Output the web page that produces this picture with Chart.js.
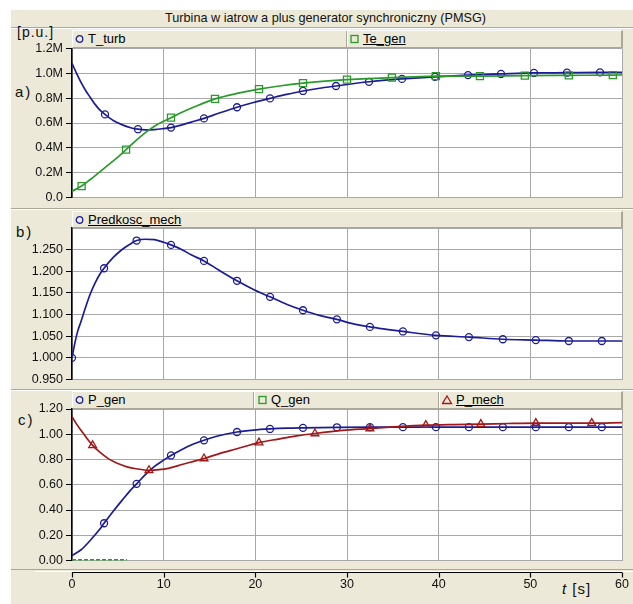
<!DOCTYPE html>
<html><head><meta charset="utf-8">
<script src="https://cdn.jsdelivr.net/npm/chart.js@4.4.0/dist/chart.umd.min.js"></script>
<style>
body{margin:0;width:633px;height:604px;position:relative;background:#fff;font-family:"Liberation Sans",Arial,sans-serif;overflow:hidden}
#bg{position:absolute;left:11px;top:10px;width:622px;height:594px;background:#ece9d8}
.hl{position:absolute;height:1px}
.leg{position:absolute;background:#ece9d8;border-top:1px solid #fff;border-left:1px solid #fff;border-right:2px solid #aca899;border-bottom:1px solid #aca899;box-sizing:border-box}
.item{position:absolute;top:0;height:100%;font-size:13px;line-height:16px;color:#000;white-space:nowrap}
.item svg{position:absolute;left:0;top:3px}
.item span{position:absolute;left:13px;top:0}
.sep{position:absolute;top:0;height:100%;width:1px;background:#aca899;border-right:1px solid #fff}
.u{text-decoration:underline}
.txt{position:absolute;color:#111;white-space:nowrap}
canvas{position:absolute;left:0}
</style></head>
<body>
<div id="bg"></div>
<div class="txt" style="left:0;width:651px;text-align:center;top:11px;font-size:12.7px;line-height:15px">Turbina w iatrow a plus generator synchroniczny (PMSG)</div>
<div class="hl" style="left:11px;width:622px;top:27px;background:#aca899"></div>
<div class="hl" style="left:11px;width:622px;top:28px;background:#fff"></div>
<div class="hl" style="left:11px;width:622px;top:208px;background:#aca899"></div>
<div class="hl" style="left:11px;width:622px;top:209px;background:#fff"></div>
<div class="hl" style="left:11px;width:622px;top:389px;background:#aca899"></div>
<div class="hl" style="left:11px;width:622px;top:390px;background:#fff"></div>
<div class="hl" style="left:11px;width:622px;top:569px;background:#aca899"></div>
<div class="hl" style="left:35px;width:598px;top:571px;background:#fff"></div>

<div class="txt" style="left:17px;top:24px;font-size:14px;line-height:17px;letter-spacing:1px">[p.u.]</div>
<div class="txt" style="left:15px;top:83px;font-size:15px;line-height:18px;letter-spacing:2px">a)</div>
<div class="txt" style="left:16px;top:223px;font-size:15px;line-height:18px;letter-spacing:2px">b)</div>
<div class="txt" style="left:18px;top:411px;font-size:15px;line-height:18px;letter-spacing:2px">c)</div>
<div class="txt" style="left:562px;top:580px;font-size:15px;line-height:18px;letter-spacing:1px"><i>t</i> [s]</div>

<div class="leg" style="left:72px;top:30px;width:551px;height:18px">
  <div class="item" style="left:2px"><svg width="10" height="10"><circle cx="4.5" cy="5" r="3.3" fill="none" stroke="#1c1c96" stroke-width="1.3"/></svg><span>T_turb</span></div>
  <div class="sep" style="left:273px"></div>
  <div class="item" style="left:277px"><svg width="10" height="10"><rect x="1" y="1.5" width="7" height="7" fill="none" stroke="#2a9a2a" stroke-width="1.3"/></svg><span class="u">Te_gen</span></div>
</div>
<div class="leg" style="left:72px;top:211px;width:551px;height:17px">
  <div class="item" style="left:2px"><svg width="10" height="10"><circle cx="4.5" cy="5" r="3.3" fill="none" stroke="#1c1c96" stroke-width="1.3"/></svg><span class="u">Predkosc_mech</span></div>
</div>
<div class="leg" style="left:72px;top:391px;width:551px;height:18px">
  <div class="item" style="left:2px"><svg width="10" height="10"><circle cx="4.5" cy="5" r="3.3" fill="none" stroke="#1c1c96" stroke-width="1.3"/></svg><span>P_gen</span></div>
  <div class="sep" style="left:180px"></div>
  <div class="item" style="left:185px"><svg width="10" height="10"><rect x="1" y="1.5" width="7" height="7" fill="none" stroke="#2a9a2a" stroke-width="1.3"/></svg><span>Q_gen</span></div>
  <div class="sep" style="left:365px"></div>
  <div class="item" style="left:369px"><svg width="12" height="10"><polygon points="5,1 9.5,8.5 0.5,8.5" fill="none" stroke="#a01818" stroke-width="1.3"/></svg><span class="u" style="left:14px">P_mech</span></div>
</div>

<canvas id="ca" width="633" height="170" style="top:38px"></canvas>
<canvas id="cb" width="633" height="175" style="top:215px"></canvas>
<canvas id="cc" width="633" height="207" style="top:397px"></canvas>

<script>
// ---------- data ----------
const X_TICKS = [0, 10, 20, 30, 40, 50, 60];
const A_TICK_LABELS = ['0.0', '0.2M', '0.4M', '0.6M', '0.8M', '1.0M', '1.2M'];
const B_TICK_LABELS = ['0.950', '1.000', '1.050', '1.100', '1.150', '1.200', '1.250', ''];
const C_TICK_LABELS = ['0.00', '0.20', '0.40', '0.60', '0.80', '1.00', '1.20'];

// a) T_turb
const T_TURB_T = [0, 0.5, 1, 1.5, 2, 2.5, 3, 3.6, 4.5, 5.5, 6.5, 7.2, 8, 9, 10, 10.8, 12, 13, 14.4, 16, 18, 19.8, 21.6, 23.4, 25.2, 27, 28.8, 30.6, 32.4, 34.2, 36, 39.6, 43.2, 46.8, 50.4, 54, 57.6, 60];
const T_TURB_V = [1.08, 1.00, 0.925, 0.86, 0.805, 0.752, 0.708, 0.669, 0.62, 0.585, 0.56, 0.55, 0.545, 0.547, 0.555, 0.563, 0.585, 0.607, 0.637, 0.678, 0.727, 0.765, 0.798, 0.83, 0.858, 0.88, 0.898, 0.916, 0.932, 0.945, 0.955, 0.972, 0.986, 0.995, 1.003, 1.005, 1.008, 1.008];
const T_TURB_MARKS = [3.6, 7.2, 10.8, 14.4, 18, 21.6, 25.2, 28.8, 32.4, 36, 39.6, 43.2, 46.8, 50.4, 54, 57.6];
// a) Te_gen
const TE_GEN_T = [0, 1.05, 2, 3, 4, 5, 5.9, 7, 8, 9, 10, 10.8, 12, 13.5, 15.6, 18, 20.4, 22.8, 25.2, 27.6, 30, 32.4, 34.9, 37.3, 39.7, 44.5, 49.4, 54.2, 59, 60];
const TE_GEN_V = [0.05, 0.092, 0.145, 0.205, 0.265, 0.326, 0.386, 0.46, 0.522, 0.574, 0.614, 0.643, 0.686, 0.735, 0.794, 0.838, 0.873, 0.9, 0.921, 0.937, 0.949, 0.958, 0.966, 0.972, 0.977, 0.978, 0.982, 0.984, 0.986, 0.987];
const TE_GEN_MARKS = [1.05, 5.9, 10.8, 15.6, 20.4, 25.2, 30, 34.9, 39.7, 44.5, 49.4, 54.2, 59];

// b) Predkosc_mech
const PRED_T = [0, 0.3, 0.6, 1, 1.5, 2, 2.5, 3, 3.5, 4.5, 5.5, 6.5, 7.05, 8, 9, 10, 10.8, 12, 13, 14.4, 16, 18, 19.8, 21.6, 23.4, 25.2, 27, 28.9, 30.6, 32.5, 34.3, 36.1, 39.7, 43.3, 47, 50.6, 54.2, 57.8, 60];
const PRED_V = [1.000, 1.033, 1.060, 1.085, 1.118, 1.148, 1.172, 1.192, 1.207, 1.232, 1.251, 1.265, 1.271, 1.274, 1.273, 1.267, 1.261, 1.250, 1.238, 1.224, 1.203, 1.178, 1.158, 1.141, 1.124, 1.110, 1.098, 1.089, 1.079, 1.0715, 1.066, 1.061, 1.052, 1.048, 1.043, 1.041, 1.039, 1.039, 1.039];
const PRED_MARKS = [0, 3.5, 7.05, 10.8, 14.4, 18, 21.6, 25.2, 28.9, 32.5, 36.1, 39.7, 43.3, 47, 50.6, 54.2, 57.8];

// c) P_gen
const P_GEN_T = [0, 1, 2, 3, 3.5, 4.5, 5.5, 6.3, 7.05, 8, 9, 10, 10.8, 12, 13, 14.4, 16, 18, 19.8, 21.6, 23.4, 25.2, 28.9, 32.5, 36.1, 39.7, 43.3, 47, 50.6, 54.2, 57.8, 60];
const P_GEN_V = [0.04, 0.085, 0.16, 0.245, 0.295, 0.39, 0.48, 0.55, 0.607, 0.68, 0.745, 0.795, 0.832, 0.88, 0.915, 0.952, 0.988, 1.018, 1.033, 1.042, 1.048, 1.051, 1.055, 1.056, 1.056, 1.056, 1.056, 1.056, 1.056, 1.056, 1.056, 1.056];
const P_GEN_MARKS = [3.5, 7.05, 10.8, 14.4, 18, 21.6, 25.2, 28.9, 32.5, 36.1, 39.7, 43.3, 47, 50.6, 54.2, 57.8];
// c) Q_gen
const Q_GEN_T = [0, 2, 4, 6];
const Q_GEN_V = [0.003, 0.003, 0.003, 0.003];
// c) P_mech
const P_MECH_T = [0, 0.5, 1, 1.5, 2.25, 3, 4, 5, 6, 7, 8.4, 9.5, 10.5, 12, 13, 14.4, 16, 18, 20.4, 22.5, 24.5, 26.5, 29.5, 32.5, 35.5, 38.6, 41.6, 44.6, 47.6, 50.6, 53.6, 56.7, 60];
const P_MECH_V = [1.14, 1.08, 1.03, 0.98, 0.912, 0.86, 0.805, 0.768, 0.742, 0.727, 0.715, 0.72, 0.73, 0.76, 0.78, 0.808, 0.845, 0.885, 0.934, 0.962, 0.987, 1.006, 1.03, 1.045, 1.06, 1.072, 1.077, 1.08, 1.085, 1.088, 1.088, 1.088, 1.092];
const P_MECH_MARKS = [2.25, 8.4, 14.4, 20.4, 26.5, 32.5, 38.6, 44.6, 50.6, 56.7];

// ---------- styling ----------
const BLUE = '#1c1c96', GREEN = '#2a9a2a', RED = '#a01818';
const GRID = '#a8a8a8';
const FONT = {family: '"Liberation Sans", Arial, sans-serif', size: 12.5};

function series(T, V, marks, color, style, r, extra) {
  return Object.assign({
    data: T.map((t, i) => ({x: t, y: V[i]})),
    borderColor: color,
    borderWidth: 1.7,
    backgroundColor: 'rgba(0,0,0,0)',
    pointStyle: style,
    pointBorderColor: color,
    pointBackgroundColor: 'rgba(0,0,0,0)',
    pointBorderWidth: 1.3,
    pointRadius: ctx => (ctx.raw && marks.includes(ctx.raw.x)) ? r : 0,
    pointHoverRadius: 0,
    cubicInterpolationMode: 'monotone',
    fill: false
  }, extra || {});
}

const whiteBg = {
  id: 'whiteBg',
  beforeDraw(chart) {
    const a = chart.chartArea, c = chart.ctx;
    c.save(); c.fillStyle = '#fff';
    c.fillRect(a.left, a.top, a.right - a.left, a.bottom - a.top);
    c.restore();
  }
};

function yScale(min, max, step, labels) {
  return {
    type: 'linear', min: min, max: max,
    ticks: {stepSize: step, padding: 3, color: '#111', font: FONT,
            callback: (v, i) => labels[i]},
    grid: {color: GRID, lineWidth: 1, tickLength: 6,
           tickColor: ctx => (ctx.tick && labels[ctx.index] === '') ? 'rgba(0,0,0,0)' : '#000'},
    border: {color: '#000', width: 1.5},
    afterFit: s => { s.width = 72; }
  };
}
function xHidden() {
  return {
    type: 'linear', min: 0, max: 60,
    ticks: {stepSize: 10, display: false},
    grid: {color: GRID, drawTicks: false, lineWidth: 1},
    border: {color: GRID, width: 1},
    afterFit: s => { s.height = 0; s.paddingLeft = 0; s.paddingRight = 0; }
  };
}
function baseOptions(scales, pad) {
  return {
    responsive: false, animation: false, events: [],
    layout: {padding: pad},
    plugins: {legend: {display: false}, tooltip: {enabled: false}, title: {display: false}},
    scales: scales
  };
}

// a)
new Chart(document.getElementById('ca'), {
  type: 'line',
  data: {datasets: [
    series(TE_GEN_T, TE_GEN_V, TE_GEN_MARKS, GREEN, 'rect', 5),
    series(T_TURB_T, T_TURB_V, T_TURB_MARKS, BLUE, 'circle', 3.5)
  ]},
  options: baseOptions({x: xHidden(), y: yScale(0, 1.2, 0.2, A_TICK_LABELS)},
                       {top: 10, bottom: 9, left: 0, right: 11}),
  plugins: [whiteBg]
});

// b)
new Chart(document.getElementById('cb'), {
  type: 'line',
  data: {datasets: [
    series(PRED_T, PRED_V, PRED_MARKS, BLUE, 'circle', 3.5)
  ]},
  options: baseOptions({x: xHidden(), y: yScale(0.95, 1.30, 0.05, B_TICK_LABELS)},
                       {top: 13, bottom: 10, left: 0, right: 11}),
  plugins: [whiteBg]
});

// c)
const axisStrip = {
  id: 'axisStrip',
  afterDraw(chart) {
    const c = chart.ctx, a = chart.chartArea, xs = chart.scales.x;
    const y = 572 - 397 + 0.5;
    c.save(); c.strokeStyle = '#000'; c.lineWidth = 1.2;
    c.beginPath(); c.moveTo(a.left, y); c.lineTo(a.right, y); c.stroke();
    X_TICKS.forEach(v => {
      const px = Math.round(xs.getPixelForValue(v)) + 0.5;
      c.beginPath(); c.moveTo(px, y); c.lineTo(px, y + 5); c.stroke();
    });
    c.restore();
  }
};
new Chart(document.getElementById('cc'), {
  type: 'line',
  data: {datasets: [
    series(Q_GEN_T, Q_GEN_V, [], GREEN, 'rect', 0, {borderWidth: 2, borderDash: [4, 2], cubicInterpolationMode: 'default', tension: 0}),
    series(P_MECH_T, P_MECH_V, P_MECH_MARKS, RED, 'triangle', 4.5),
    series(P_GEN_T, P_GEN_V, P_GEN_MARKS, BLUE, 'circle', 3.5)
  ]},
  options: baseOptions({
    x: {type: 'linear', min: 0, max: 60,
        ticks: {stepSize: 10, padding: 16.5, color: '#111', font: FONT, maxRotation: 0,
                callback: v => X_TICKS.includes(v) ? String(v) : ''},
        grid: {color: GRID, drawTicks: false, lineWidth: 1},
        border: {color: GRID, width: 1},
        afterFit: s => { s.height = 43.5; s.paddingLeft = 0; s.paddingRight = 0; }},
    y: yScale(0, 1.2, 0.2, C_TICK_LABELS)
  }, {top: 12, bottom: 0, left: 0, right: 11}),
  plugins: [whiteBg, axisStrip]
});
</script>
</body></html>
